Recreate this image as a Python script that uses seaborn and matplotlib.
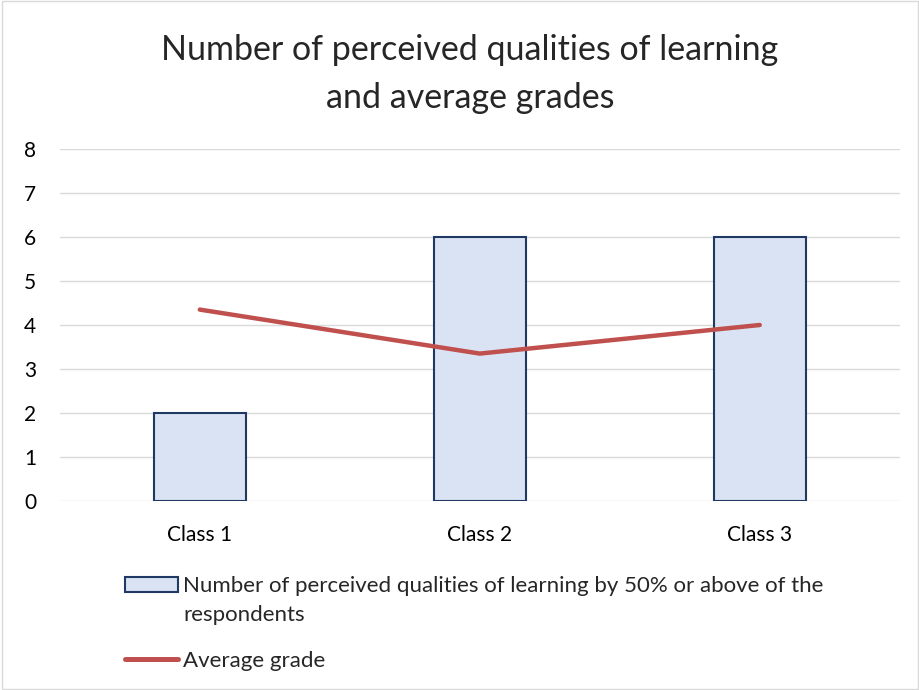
import pandas as pd
import seaborn as sns
import matplotlib.pyplot as plt
from matplotlib.patches import Rectangle, Patch
from matplotlib.lines import Line2D

classes = ["Class 1", "Class 2", "Class 3"]
qualities = [2, 6, 6]
avg_grade = [4.35, 3.35, 4.0]

bar_label_1 = "Number of perceived qualities of learning by 50% or above of the"
bar_label_2 = "respondents"
line_label = "Average grade"

sns.set_theme(style="white")
plt.rcParams["font.family"] = ["Lato", "DejaVu Sans"]

df = pd.DataFrame({"cls": classes, "q": qualities, "g": avg_grade})

fig = plt.figure(figsize=(9.2, 6.9), dpi=100)
ax = fig.add_axes([0.065, 0.274, 0.913, 0.510])

sns.barplot(data=df, x="cls", y="q", color="#DAE3F3", edgecolor="#1F3864",
            linewidth=1.5, width=0.33, saturation=1, ax=ax)
sns.lineplot(data=df, x="cls", y="g", color="#C0504D", linewidth=3.2,
             sort=False, ax=ax)

ax.set_ylim(0, 8)
ax.set_xlim(-0.5, 2.5)
ax.set_yticks(range(0, 9))
ax.yaxis.grid(True, color="#D9D9D9", linewidth=1)
ax.set_axisbelow(True)
for s in ax.spines.values():
    s.set_visible(False)
ax.tick_params(axis="both", length=0, labelsize=15, colors="#000000")
ax.tick_params(axis="y", pad=17)
ax.tick_params(axis="x", pad=17)
ax.set_xlabel("")
ax.set_ylabel("")

fig.text(0.511, 0.893, "Number of perceived qualities of learning\nand average grades",
         ha="center", va="center", fontsize=24.5, linespacing=1.6)

# legend: bar entry (two text rows, handle on first row) + line entry
blank = Patch(facecolor="none", edgecolor="none")
leg1 = fig.legend([Patch(facecolor="#DAE3F3", edgecolor="#1F3864", linewidth=1.5), blank],
                  [bar_label_1, bar_label_2], loc="upper left",
                  bbox_to_anchor=(0.136, 0.165), frameon=False, fontsize=16,
                  handlelength=2.4, handletextpad=0.2, labelspacing=0.42,
                  borderaxespad=0, borderpad=0)
fig.legend([Line2D([0], [0], color="#C0504D", linewidth=3.6)], [line_label],
           loc="center left", bbox_to_anchor=(0.136, 0.042), frameon=False, fontsize=16,
           handlelength=2.4, handletextpad=0.2, borderaxespad=0, borderpad=0)

fig.patches.append(Rectangle((0.002, 0.002), 0.996, 0.996, transform=fig.transFigure,
                             fill=False, edgecolor="#D9D9D9", linewidth=1))

fig.savefig("out.png", dpi=100)
